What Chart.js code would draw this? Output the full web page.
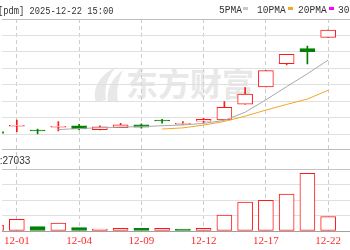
<!DOCTYPE html>
<html><head><meta charset="utf-8">
<script src="https://cdn.jsdelivr.net/npm/chart.js@4/dist/chart.umd.min.js"></script>
<style>
html,body{margin:0;padding:0;background:#fff;}
#wrap{position:relative;width:350px;height:250px;overflow:hidden;background:#fff;}
canvas{position:absolute;left:0;top:0;z-index:2;}
.t{position:absolute;white-space:nowrap;font-family:"Liberation Mono",monospace;font-size:11px;line-height:11px;color:#333;transform-origin:0 0;z-index:3;}
.m{position:absolute;z-index:3;height:3px;width:5px;}
#wm{position:absolute;left:126px;top:62px;font-family:"Noto Sans CJK SC";font-weight:700;font-size:32px;line-height:40px;color:#e8e8e8;z-index:1;white-space:nowrap;}
#logo{position:absolute;left:90px;top:64px;z-index:1;}
#vol{position:absolute;left:-0.3px;top:155.5px;font-family:"Liberation Sans",Arial,sans-serif;font-size:10px;line-height:10px;color:#333;z-index:3;white-space:nowrap;}
</style></head>
<body><div id="wrap">
<div id="wm">东方财富</div>
<svg id="logo" width="36" height="42"><path d="M6 38 C2 26 8 12 26 3 C18 12 14 22 16 36 Z" fill="#e8e8e8"/><path d="M18 38 C16 26 22 14 33 6 C28 16 26 26 28 38 Z" fill="#e8e8e8"/></svg>
<canvas id="c" width="350" height="250"></canvas>
<div class="t" style="left:-2.2px;top:5.6px;transform:scaleX(0.795)">[pdm] 2025-12-22 15:00</div>
<div class="t" style="left:219px;top:5.2px;transform:scaleX(0.87)">5PMA</div>
<div class="m" style="left:243px;top:7px;background:#c8c8c8"></div>
<div class="t" style="left:257px;top:5.2px;transform:scaleX(0.87)">10PMA</div>
<div class="m" style="left:288px;top:7px;background:#f5a623"></div>
<div class="t" style="left:298px;top:5.2px;transform:scaleX(0.87)">20PMA</div>
<div class="m" style="left:329px;top:7px;background:#ff00ff"></div>
<div class="t" style="left:338px;top:5.2px;transform:scaleX(0.87)">30PMA</div>
<div id="vol">:27033</div>
</div>
<script>
const dates = ['11-28','12-01','12-02','12-03','12-04','12-05','12-08','12-09','12-10','12-11','12-12','12-15','12-16','12-17','12-18','12-19','12-22'];
const openP  = [6.17, 6.50, 6.22, 6.44, 6.53, 6.29, 6.41, 6.58, 6.83, 6.62, 6.80, 6.88, 7.83, 8.88, 10.29, 11.20, 11.89];
const highP  = [6.20, 6.88, 6.33, 6.78, 6.62, 6.53, 6.68, 6.65, 6.92, 6.78, 6.98, 7.99, 8.84, 9.87, 10.86, 11.36, 12.33];
const lowP   = [6.03, 6.17, 6.03, 6.21, 6.27, 6.27, 6.41, 6.38, 6.68, 6.61, 6.72, 6.88, 7.83, 8.88, 10.21, 10.27, 11.89];
const closeP = [6.07, 6.51, 6.21, 6.45, 6.33, 6.46, 6.58, 6.45, 6.82, 6.64, 6.92, 7.65, 8.45, 9.87, 10.86, 11.02, 12.33];
const prevClose = 6.00;
const volume = [10700, 22000, 8300, 15000, 6400, 3800, 5100, 5100, 5100, 3800, 5100, 30000, 54400, 57600, 69500, 108300, 27033];
const ma5  = [null, null, null, 6.30, 6.36, 6.41, 6.45, 6.47, 6.53, 6.58, 6.67, 6.86, 7.35, 8.10, 8.90, 9.68, 10.51];
const ma10 = [null, null, null, null, null, null, null, null, 6.33, 6.40, 6.57, 6.79, 7.11, 7.48, 7.82, 8.15, 8.68];
const tickDates = ['12-01','12-04','12-09','12-12','12-17','12-22'];
const priceGrid = [5.12, 6, 7, 8, 9, 10, 11, 12, 13];
const volGrid = [0, 29000, 58000, 87000, 116000];

const RED = '#ff1a1a', GREEN = '#008000';
const idx = dates.map((d, i) => i);
const up = idx.map(i => closeP[i] >= openP[i]);
const cColor = idx.map(i => up[i] ? RED : GREEN);
const cFill = idx.map(i => up[i] ? '#ffffff' : GREEN);
const vUp = idx.map(i => closeP[i] >= (i ? closeP[i - 1] : prevClose));
const vColor = idx.map(i => vUp[i] ? RED : GREEN);
const vFill = idx.map(i => vUp[i] ? '#ffffff' : GREEN);

const XMIN = 0.2962, XMAX = 17.053;

new Chart(document.getElementById('c'), {
  type: 'bar',
  data: {
    datasets: [
      { type: 'line', label: '5PMA', data: idx.filter(i => ma5[i] != null).map(i => ({ x: i, y: ma5[i] })),
        borderColor: '#a8a8a8', borderWidth: 1, pointRadius: 0, tension: 0, order: 0, yAxisID: 'y' },
      { type: 'line', label: '10PMA', data: idx.filter(i => ma10[i] != null).map(i => ({ x: i, y: ma10[i] })),
        borderColor: '#f5a623', borderWidth: 1, pointRadius: 0, tension: 0, order: 0, yAxisID: 'y' },
      { type: 'bar', label: 'body', data: idx.map(i => ({ x: i, y: [openP[i], closeP[i]] })),
        backgroundColor: cFill, borderColor: cColor, borderWidth: 1, borderSkipped: false,
        barThickness: 15, minBarLength: 1, grouped: false, order: 1, yAxisID: 'y' },
      { type: 'bar', label: 'wick', data: idx.map(i => ({ x: i, y: [lowP[i], highP[i]] })),
        backgroundColor: cColor, borderWidth: 0, barThickness: 1, grouped: false, order: 2, yAxisID: 'y' },
      { type: 'bar', label: 'vol', data: idx.map(i => ({ x: i, y: volume[i] })),
        backgroundColor: vFill, borderColor: vColor, borderWidth: 1, borderSkipped: false,
        barThickness: 15, grouped: false, order: 3, yAxisID: 'yv' }
    ]
  },
  options: {
    responsive: false, animation: false, devicePixelRatio: 1,
    layout: { padding: { top: 19, left: 0, right: 0, bottom: 0 }, autoPadding: false },
    plugins: { legend: { display: false }, tooltip: { enabled: false } },
    scales: {
      x: {
        type: 'linear', min: XMIN, max: XMAX, offset: false,
        afterBuildTicks: s => { s.ticks = tickDates.map(d => ({ value: dates.indexOf(d) })); },
        afterFit: s => { s.height = 19; },
        ticks: { callback: v => dates[v], color: '#ff2a2a', font: { family: 'Liberation Serif', size: 11 },
                 padding: 4, maxRotation: 0, autoSkip: false },
        grid: { color: '#cccccc', lineWidth: 1, drawTicks: false, offset: false },
        border: { display: false, dash: [4, 3] }
      },
      y: {
        position: 'left', min: 0.15, max: 13, weight: 2,
        afterBuildTicks: s => { s.ticks = priceGrid.map(v => ({ value: v })); },
        afterFit: s => { s.width = 0; },
        ticks: { display: false },
        grid: { drawTicks: false, lineWidth: 1,
                color: c => (c.tick && (c.tick.value === 13 || c.tick.value === 5.12)) ? '#bdbdbd' : '#e0e0e0' },
        border: { display: false }
      },
      yv: {
        position: 'left', min: 0, max: 398000, weight: 1,
        afterBuildTicks: s => { s.ticks = volGrid.map(v => ({ value: v })); },
        afterFit: s => { s.width = 0; },
        ticks: { display: false },
        grid: { drawTicks: false, lineWidth: 1,
                color: c => (c.tick && c.tick.value === 0) ? '#a0a0a0' : (c.tick && c.tick.value === 116000 ? '#c4c4c4' : '#e0e0e0') },
        border: { display: false }
      }
    }
  }
});
</script>
</body></html>
